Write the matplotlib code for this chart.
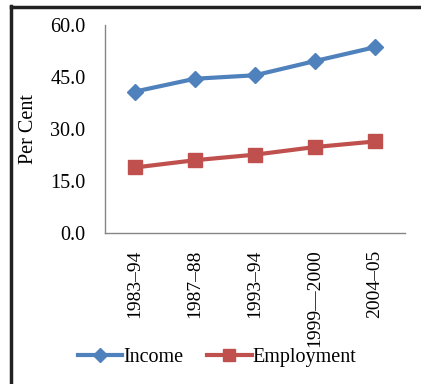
import matplotlib
matplotlib.use("Agg")
import matplotlib.pyplot as plt
from matplotlib.lines import Line2D

# Income and employment shares by survey round
periods = ["1983\u201394", "1987\u201388", "1993\u201394", "1999\u20142000", "2004\u201305"]
income = [40.8, 44.5, 45.5, 49.6, 53.6]
employment = [18.9, 21.0, 22.6, 24.8, 26.4]

plt.rcParams["font.family"] = ["Liberation Serif", "DejaVu Serif"]

W, H = 421, 384
fig = plt.figure(figsize=(W / 100, H / 100), dpi=100)
ax = fig.add_axes([105 / W, 1 - 233 / H, 300 / W, 208 / H])

x = range(len(periods))
l1, = ax.plot(x, income, color="#4F81BD", lw=3, marker="D", ms=8, label="Income")
l2, = ax.plot(x, employment, color="#C0504D", lw=3, marker="s", ms=10, label="Employment")

ax.set_xlim(-0.5, len(periods) - 0.5)
ax.set_ylim(0, 60)
ax.set_yticks([0, 15, 30, 45, 60])
ax.set_yticklabels([f"{v:.1f}" for v in [0, 15, 30, 45, 60]], fontsize=14.5)
ax.set_xticks(list(x))
ax.set_xticklabels(periods, rotation=90, fontsize=14, va="top")
ax.tick_params(axis="x", length=0, pad=12)
ax.tick_params(axis="y", length=0, pad=14)
for s in ["top", "right"]:
    ax.spines[s].set_visible(False)
for s in ["left", "bottom"]:
    ax.spines[s].set_color("#868686")
    ax.spines[s].set_linewidth(1)
ax.set_ylabel("Per Cent", fontsize=14.5)
ax.yaxis.set_label_coords(-67 / 300, 0.5)

fig.legend(handles=[l1, l2], loc="center", bbox_to_anchor=(217 / W, 1 - 357 / H),
           ncol=2, frameon=False, fontsize=14.5, handlelength=2.2, columnspacing=1.2,
           handletextpad=0.05, markerscale=0.9)

# black frame along the top and left edges
fig.add_artist(Line2D([11 / W, 1], [1 - 6.5 / H, 1 - 6.5 / H], color="#222222", lw=2.5,
                      transform=fig.transFigure))
fig.add_artist(Line2D([11 / W, 11 / W], [0, 1 - 5.5 / H], color="#222222", lw=2.5,
                      transform=fig.transFigure))

fig.savefig("out.png", dpi=100)
